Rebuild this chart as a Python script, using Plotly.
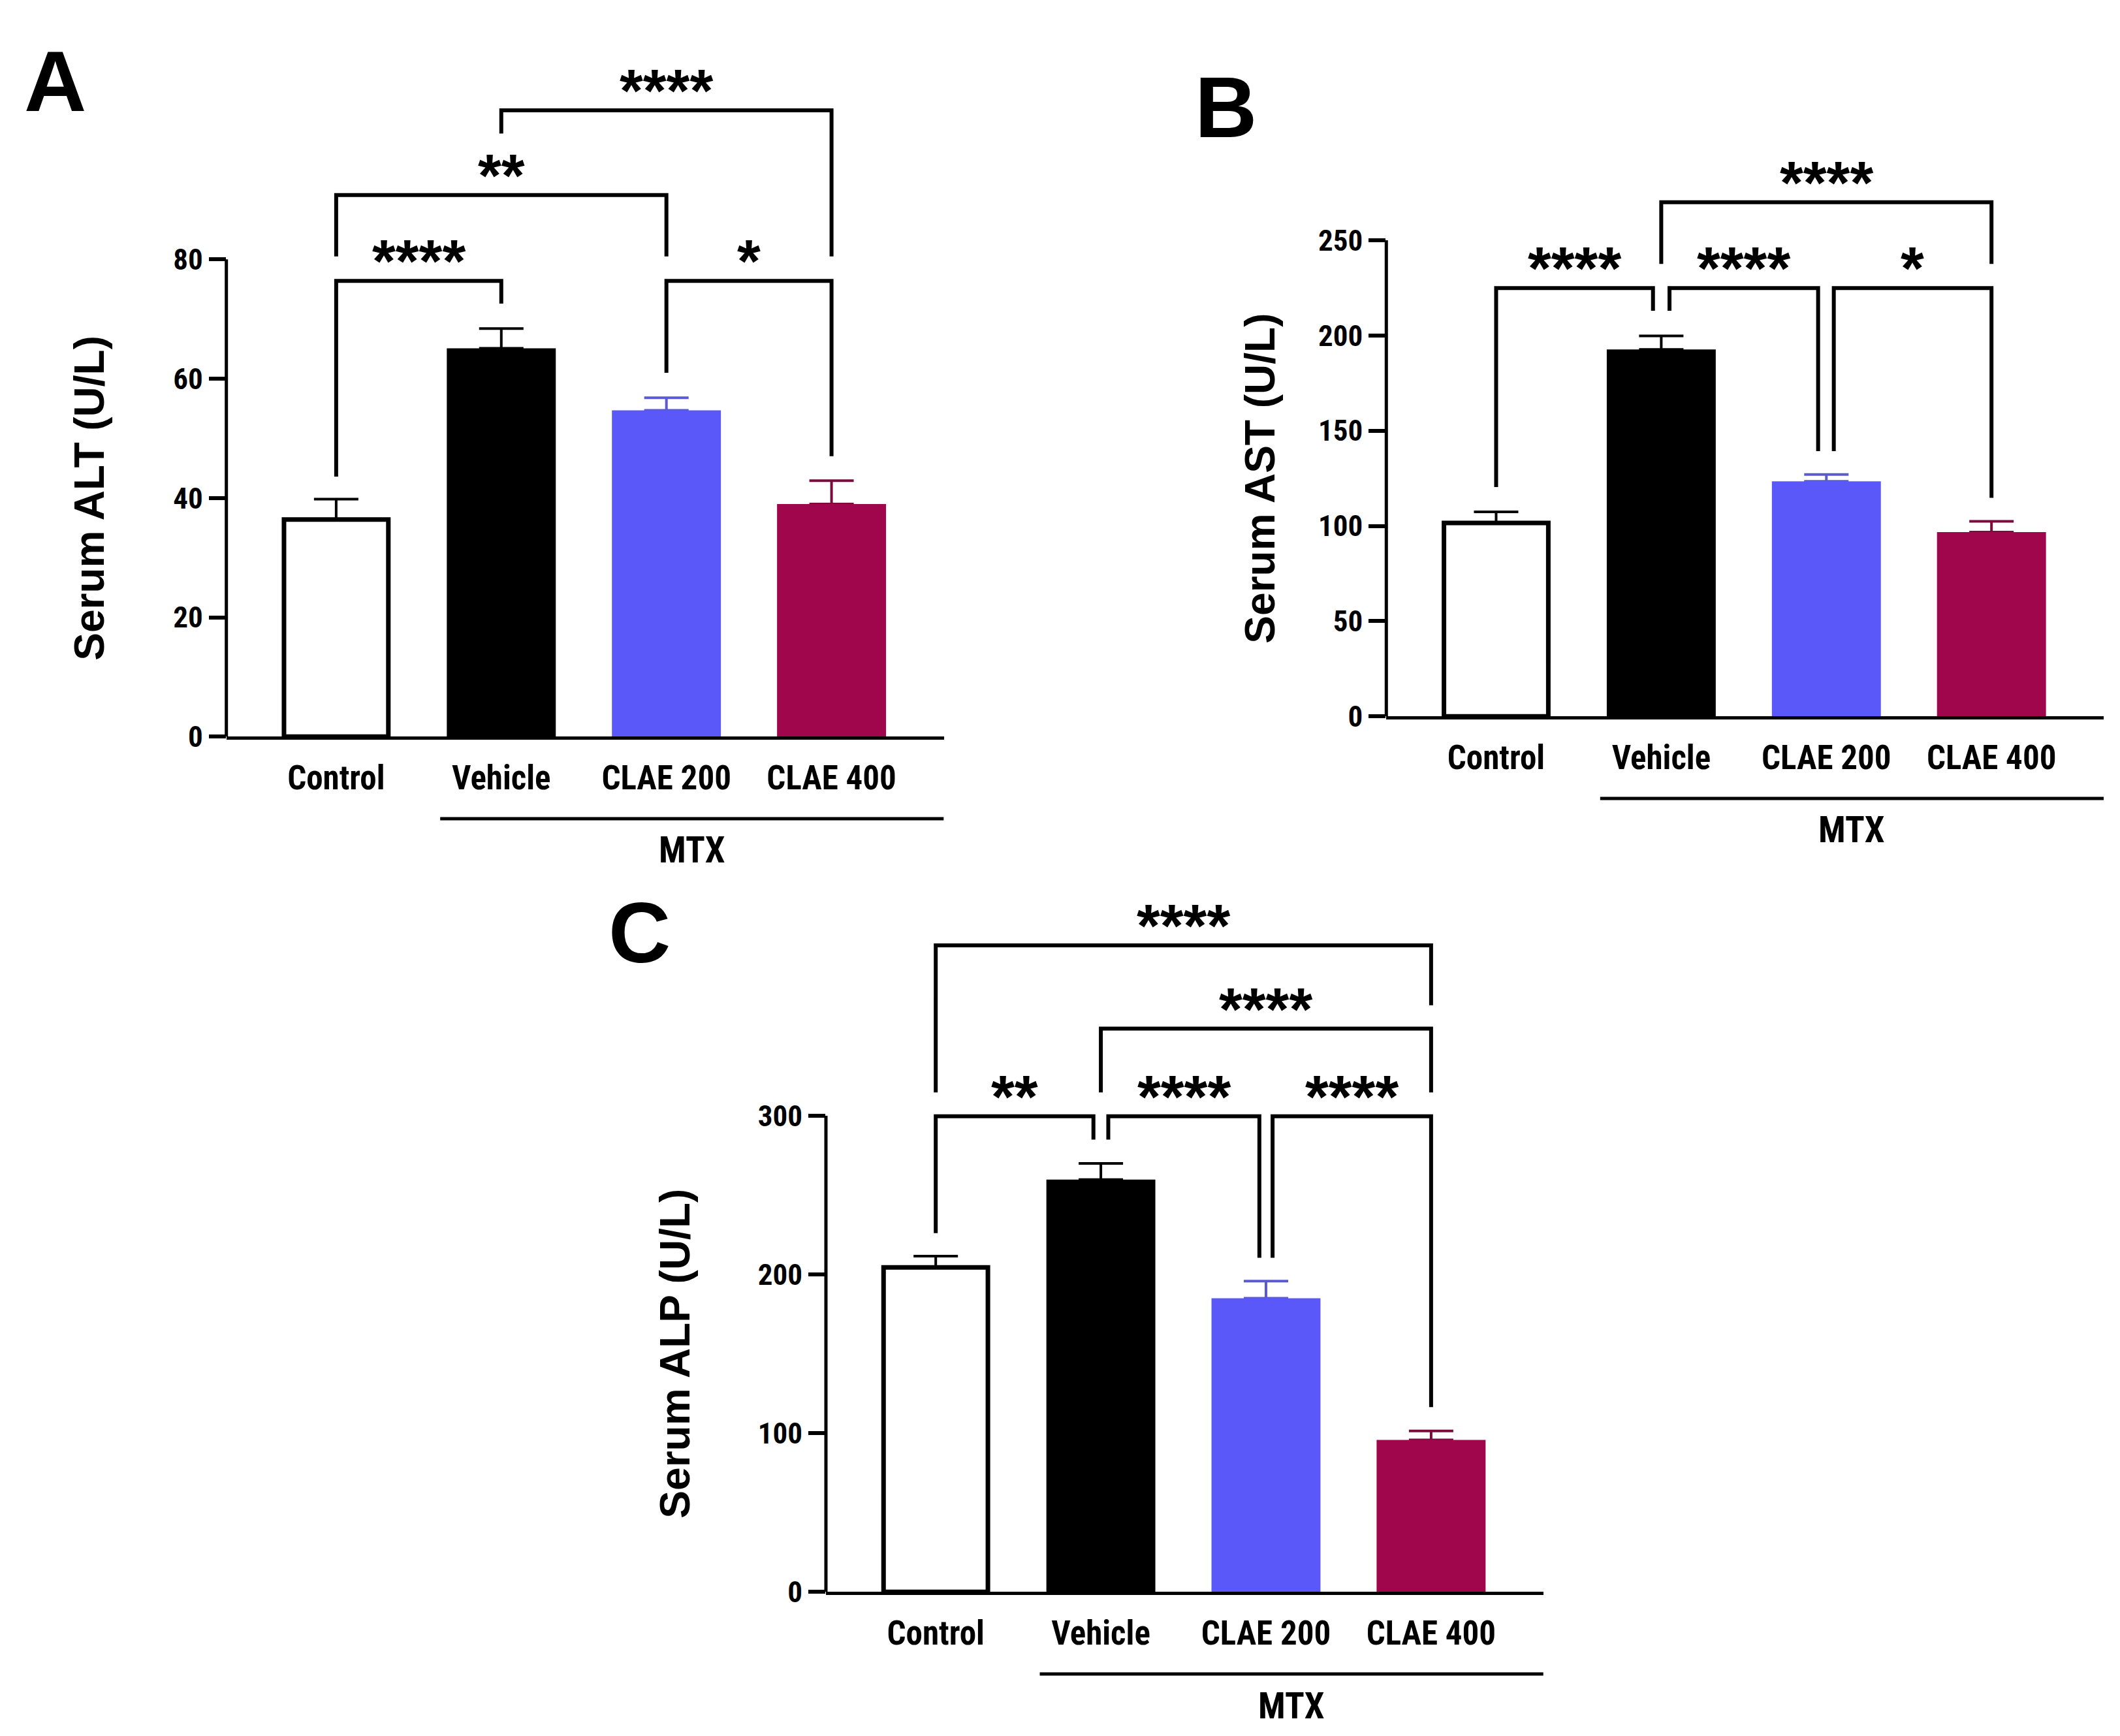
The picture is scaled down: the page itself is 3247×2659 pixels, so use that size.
import plotly.graph_objects as go

W, H = 3247, 2659

# ---------------- data ----------------
categories = ["Control", "Vehicle", "CLAE 200", "CLAE 400"]
group_label = "MTX"

alt_mean = [36.4, 65.1, 54.7, 39.0]
alt_sem = [3.4, 3.3, 2.1, 3.9]
alt_ticks = [0, 20, 40, 60, 80]

ast_mean = [101.6, 192.7, 123.4, 96.8]
ast_sem = [5.8, 7.1, 3.6, 5.6]
ast_ticks = [0, 50, 100, 150, 200, 250]

alp_mean = [204.5, 259.8, 185.0, 95.8]
alp_sem = [7.0, 10.2, 10.8, 5.6]
alp_ticks = [0, 100, 200, 300]

# significance brackets: (group i, group j, label, bracket level, leg end i, leg end j)
alt_sig = [
    (0, 1, "****", 76.4, 43.6, 72.6),
    (2, 3, "*", 76.4, 61.0, 47.0),
    (0, 2, "**", 90.8, 80.5, 80.5),
    (1, 3, "****", 105.0, 101.1, 80.5),
]
ast_sig = [
    (0, 1, "****", 224.9, 120.4, 213.0),
    (1, 2, "****", 224.9, 213.0, 139.3),
    (2, 3, "*", 224.9, 139.3, 114.8),
    (1, 3, "****", 270.0, 237.6, 237.6),
]
alp_sig = [
    (0, 1, "**", 299.7, 226.0, 285.0),
    (1, 2, "****", 299.7, 285.0, 210.5),
    (2, 3, "****", 299.7, 210.5, 116.4),
    (1, 3, "****", 354.9, 314.7, 314.7),
    (0, 3, "****", 407.3, 314.7, 369.6),
]

# ---------------- style ----------------
NARROW = "Liberation Sans Narrow, Arial Narrow, Roboto Condensed, DejaVu Sans Condensed, Liberation Sans, sans-serif"
WIDE = "Liberation Sans, Arial, Helvetica, sans-serif"
bar_colors = ["#ffffff", "#000000", "#5a58f8", "#a0064b"]
err_colors = ["#000000", "#000000", "#5a5ad2", "#7a0b3c"]
XR = [-0.665, 3.68]
BAR_W = 0.66
PX_PER_CAT = 252.9

# leg nudges (category units) so adjacent brackets do not touch
alt_nudge = [(0, 0), (0, 0), (0, 0), (0, 0)]
ast_nudge = [(0, -0.05), (0.05, -0.05), (0.045, 0), (0, 0)]
alp_nudge = [(0, -0.045), (0.045, -0.04), (0.04, 0), (0, 0), (0, 0)]

# panel pixel geometry: left edge, y of zero, y of top tick, ymax of axis range
panels = [
    dict(letter="A", mean=alt_mean, sem=alt_sem, ticks=alt_ticks, sig=alt_sig, nudge=alt_nudge,
         title="Serum ALT (U/L)", x0=346.7, yz=1139.8, yt=401.4, ymax=112,
         letter_xy=(84, 126), title_x=137),
    dict(letter="B", mean=ast_mean, sem=ast_sem, ticks=ast_ticks, sig=ast_sig, nudge=ast_nudge,
         title="Serum AST (U/L)", x0=2123.3, yz=1108.5, yt=371.8, ymax=295,
         letter_xy=(1878, 166), title_x=1930),
    dict(letter="C", mean=alp_mean, sem=alp_sem, ticks=alp_ticks, sig=alp_sig, nudge=alp_nudge,
         title="Serum ALP (U/L)", x0=1265.0, yz=2463.3, yt=1726.5, ymax=435,
         letter_xy=(980, 1443), title_x=1034),
]


def px_x(v):
    return v / W


def px_y(v):
    return 1 - v / H


fig = go.Figure()
layout = dict(width=W, height=H, margin=dict(l=0, r=0, t=0, b=0), autosize=False,
              paper_bgcolor="white", plot_bgcolor="rgba(0,0,0,0)", barmode="overlay",
              showlegend=False)
shapes = []
annotations = []

for k, p in enumerate(panels):
    sfx = "" if k == 0 else str(k + 1)
    xa, ya = "x" + sfx, "y" + sfx
    tmax = p["ticks"][-1]
    per = (p["yz"] - p["yt"]) / tmax
    ytop = p["yz"] - p["ymax"] * per
    x1 = p["x0"] + (XR[1] - XR[0]) * PX_PER_CAT
    layout["xaxis" + sfx] = dict(
        domain=[px_x(p["x0"]), px_x(x1)], range=XR, anchor=ya,
        showline=True, linewidth=5, linecolor="black", showgrid=False, zeroline=False,
        tickmode="array", tickvals=list(range(len(categories))), ticktext=categories,
        ticks="outside", ticklen=15, tickcolor="rgba(0,0,0,0)",
        tickfont=dict(family=NARROW, size=51, color="black", weight="bold"),
        fixedrange=True)
    layout["yaxis" + sfx] = dict(
        domain=[px_y(p["yz"]), px_y(ytop)], range=[0, p["ymax"]], anchor=xa,
        showline=False, showgrid=False, zeroline=False,
        tickmode="array", tickvals=p["ticks"], ticks="outside", ticklen=26, tickwidth=6,
        tickcolor="black", ticklabelstandoff=0,
        tickfont=dict(family=NARROW, size=45, color="black", weight="bold"),
        fixedrange=True)

    # error bars first (hidden bars), then visible bars on top
    for i, cat in enumerate(categories):
        fig.add_trace(go.Bar(
            x=[i], y=[p["mean"][i]], width=BAR_W, xaxis=xa, yaxis=ya,
            marker=dict(color="rgba(0,0,0,0)", line=dict(width=0)),
            error_y=dict(type="data", symmetric=False, array=[p["sem"][i]], arrayminus=[0],
                         color=err_colors[i], thickness=4, width=34),
            hoverinfo="skip", name=cat))
    for i, cat in enumerate(categories):
        outlined = bar_colors[i] == "#ffffff"
        fig.add_trace(go.Bar(
            x=[i], y=[p["mean"][i]], width=BAR_W - (0.028 if outlined else 0),
            xaxis=xa, yaxis=ya,
            marker=dict(color=bar_colors[i],
                        line=dict(color="black", width=7 if outlined else 0)),
            name=cat))

    # y axis line only up to the top tick
    shapes.append(dict(type="line", xref=xa + " domain", yref=ya, x0=0, x1=0, y0=0, y1=tmax,
                       line=dict(color="black", width=5)))

    # significance brackets
    for (i, j, lab, yh, yli, ylj), (ni, nj) in zip(p["sig"], p["nudge"]):
        xl, xr = i + ni, j + nj
        shapes.append(dict(type="path", xref=xa, yref=ya,
                           path=f"M {xl},{yli} L {xl},{yh} L {xr},{yh} L {xr},{ylj}",
                           line=dict(color="black", width=6)))
        annotations.append(dict(x=(xl + xr) / 2, y=yh, xref=xa, yref=ya, text=lab,
                                showarrow=False, yanchor="middle", yshift=30,
                                font=dict(family=WIDE, size=92, color="black", weight="bold")))

    # MTX group line and label
    yline = p["yz"] + 127
    shapes.append(dict(type="line", xref=xa, yref="paper", x0=0.63, x1=XR[1],
                       y0=px_y(yline), y1=px_y(yline), line=dict(color="black", width=5)))
    annotations.append(dict(x=(0.63 + XR[1]) / 2, y=px_y(p["yz"] + 176), xref=xa, yref="paper",
                            text=group_label, showarrow=False, yanchor="middle",
                            font=dict(family=NARROW, size=55, color="black", weight="bold")))

    # y axis title
    annotations.append(dict(x=px_x(p["title_x"]), y=px_y((p["yz"] + p["yt"]) / 2),
                            xref="paper", yref="paper", text=p["title"], textangle=-90,
                            showarrow=False, xanchor="center", yanchor="middle",
                            font=dict(family=WIDE, size=64, color="black", weight="bold")))
    # panel letter
    lx, ly = p["letter_xy"]
    annotations.append(dict(x=px_x(lx), y=px_y(ly), xref="paper", yref="paper",
                            text=p["letter"], showarrow=False, xanchor="center",
                            yanchor="middle",
                            font=dict(family=WIDE, size=132, color="black", weight="bold")))

layout["shapes"] = shapes
layout["annotations"] = annotations
fig.update_layout(**layout)
fig.write_html("out.html", config={"displayModeBar": False},
               post_script="document.body.style.margin='0px';")
